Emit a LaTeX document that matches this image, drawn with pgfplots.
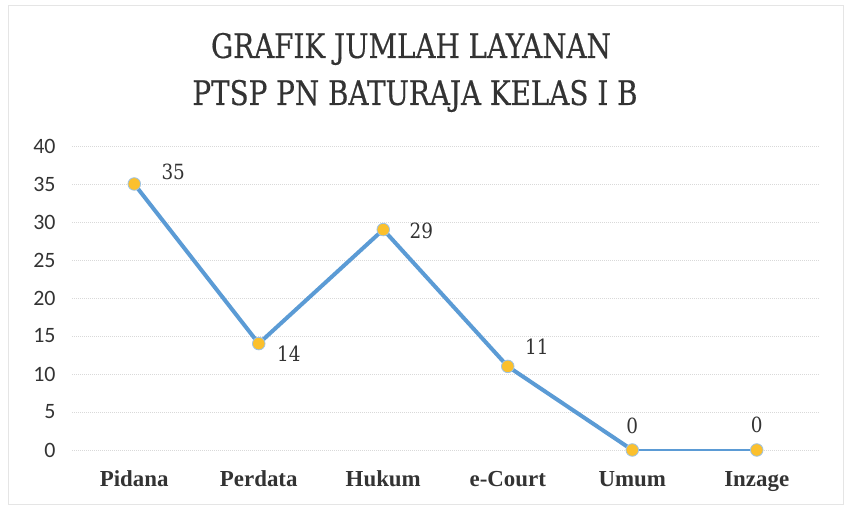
\documentclass[border=0pt]{standalone}
\usepackage{pgfplots}
\pgfplotsset{compat=1.18}
\usepackage{fontspec}
\setmainfont{Liberation Serif}
\newfontfamily\titlefont[FakeStretch=0.82,FakeBold=0.4]{DejaVu Serif}
\newfontfamily\labfont[FakeStretch=0.88]{DejaVu Serif}
\newfontfamily\tickfont{Carlito}
\definecolor{lineblue}{HTML}{5B9BD5}
\definecolor{mk}{HTML}{FBC02D}
\definecolor{txt}{HTML}{333333}
\begin{document}
\begin{tikzpicture}[x=1bp,y=1bp]
\path[use as bounding box] (0,0) rectangle (851,509);
\draw[gray!20, line width=0.8bp] (8,5) rectangle (843,504);
\node[anchor=base, text=txt, font=\titlefont\fontsize{34}{40}\selectfont] at (411,451) {GRAFIK JUMLAH LAYANAN};
\node[anchor=base, text=txt, font=\titlefont\fontsize{34}{40}\selectfont] at (415,404) {PTSP PN BATURAJA KELAS I B};
\begin{axis}[
  at={(72bp,59bp)}, anchor=south west,
  scale only axis, width=747bp, height=304bp,
  xmin=-0.5, xmax=5.5, ymin=0, ymax=40,
  xtick={0,1,2,3,4,5},
  xticklabels={Pidana,Perdata,Hukum,e-Court,Umum,Inzage},
  ytick={0,5,...,40},
  axis line style={draw=none},
  major tick length=0pt,
  ymajorgrids,
  grid style={gray!30, line width=0.7bp, dash pattern=on 1bp off 1bp},
  yticklabel style={font=\tickfont\fontsize{22}{24}\selectfont, text=txt, anchor=east, xshift=-13bp},
  /pgf/number format/assume math mode=true,
  xticklabel style={font=\bfseries\fontsize{23}{24}\selectfont, text=txt, anchor=base, yshift=-37bp},
  clip=false,
]
\addplot[lineblue, line width=2.2bp, mark=none] coordinates {(4,0) (5,0)};
\addplot[lineblue, line width=4bp, line join=round, mark=none] coordinates {(0,35) (1,14) (2,29) (3,11) (4,0)};
\addplot[only marks, mark=*, mark size=6.3bp, mark options={fill=mk, draw=lineblue!60, line width=0.8bp}]
  coordinates {(0,35) (1,14) (2,29) (3,11) (4,0) (5,0)};
\begin{scope}[every node/.style={text=txt, font=\labfont\fontsize{21}{24}\selectfont}]
\node at (axis cs:0,35) [xshift=39bp, yshift=12bp] {35};
\node at (axis cs:1,14) [xshift=30bp, yshift=-10bp] {14};
\node at (axis cs:2,29) [xshift=38bp, yshift=-1bp] {29};
\node at (axis cs:3,11) [xshift=29bp, yshift=20bp] {11};
\node at (axis cs:4,0) [yshift=24bp] {0};
\node at (axis cs:5,0) [yshift=25bp] {0};
\end{scope}
\end{axis}
\end{tikzpicture}
\end{document}
